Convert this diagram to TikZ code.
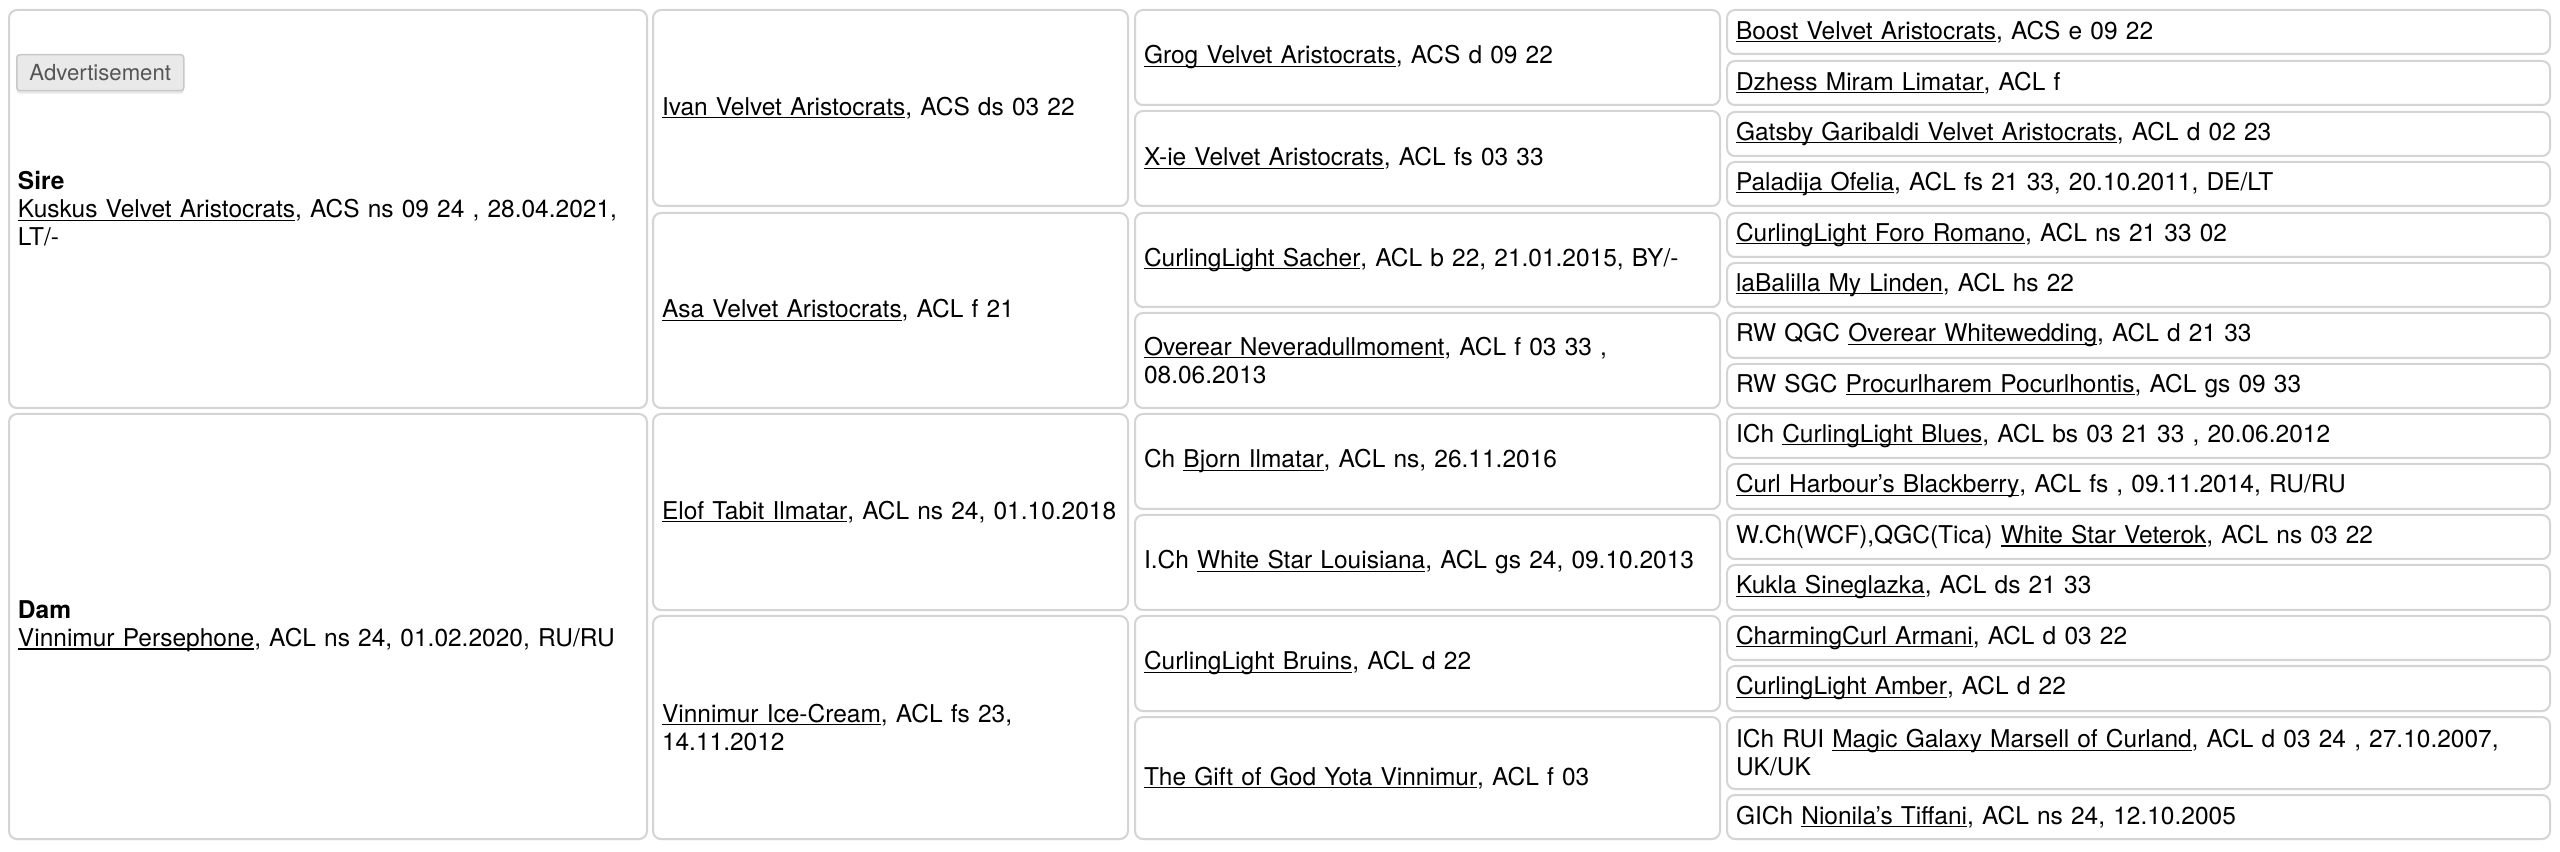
\documentclass[tikz,border=0pt]{standalone}
\usepackage{fontspec}
\setmainfont{TeX Gyre Heros}
\usetikzlibrary{shadows}
\definecolor{cellline}{RGB}{212,212,212}
\definecolor{btnfill}{RGB}{233,233,233}
\definecolor{btnline}{RGB}{200,200,200}
\definecolor{btntext}{RGB}{85,85,85}
\newsavebox{\lnkbox}
\newcommand{\lnk}[1]{\leavevmode\sbox{\lnkbox}{#1}\rlap{\rule[-0.85pt]{\wd\lnkbox}{0.35pt}}\usebox{\lnkbox}}
\tikzset{
cell/.style={draw=cellline,line width=0.02cm,rounded corners=0.08cm,fill=white,
  anchor=north west,align=left,inner xsep=0.09cm,inner ysep=0pt,
  font=\fontsize{6.97}{7.95}\selectfont,
  drop shadow={shadow xshift=0cm,shadow yshift=-0.012cm,opacity=0.12}},
colA/.style={cell,text width=6.20cm},
colB/.style={cell,text width=4.57cm},
colC/.style={cell,text width=5.67cm},
colD/.style={cell,text width=8.05cm},
adbtn/.style={draw=btnline,fill=btnfill,line width=0.015cm,rounded corners=0.03cm,
  anchor=north west,minimum width=1.67cm,minimum height=0.36cm,inner sep=0pt,
  text=btntext,font=\fontsize{6.3}{7}\selectfont,
  drop shadow={shadow xshift=0cm,shadow yshift=-0.03cm,opacity=0.18}}
}
\begin{document}
\begin{tikzpicture}
\useasboundingbox (0,0) rectangle (25.6,-8.52);
\node[colA,minimum height=3.98cm] (sire) at (0.08,-0.09)
 {\textbf{Sire}\\\lnk{Kuskus Velvet Aristocrats}, ACS ns 09 24 , 28.04.2021,\\LT/-};
\node[adbtn] (advert) at (0.16,-0.54) {Advertisement};
\node[colA,minimum height=4.25cm] (dam) at (0.08,-4.13)
 {\textbf{Dam}\\\lnk{Vinnimur Persephone}, ACL ns 24, 01.02.2020, RU/RU};

\node[colB,minimum height=1.96cm] (ivan) at (6.52,-0.09) {\lnk{Ivan Velvet Aristocrats}, ACS ds 03 22};
\node[colB,minimum height=1.95cm] (asa) at (6.52,-2.12) {\lnk{Asa Velvet Aristocrats}, ACL f 21};
\node[colB,minimum height=1.96cm] (elof) at (6.52,-4.13) {\lnk{Elof Tabit Ilmatar}, ACL ns 24, 01.10.2018};
\node[colB,minimum height=2.23cm] (icecream) at (6.52,-6.15) {\lnk{Vinnimur Ice-Cream}, ACL fs 23,\\14.11.2012};

\node[colC,minimum height=0.95cm] (grog) at (11.34,-0.09) {\lnk{Grog Velvet Aristocrats}, ACS d 09 22};
\node[colC,minimum height=0.95cm] (xie) at (11.34,-1.10) {\lnk{X-ie Velvet Aristocrats}, ACL fs 03 33};
\node[colC,minimum height=0.94cm] (sacher) at (11.34,-2.12) {\lnk{CurlingLight Sacher}, ACL b 22, 21.01.2015, BY/-};
\node[colC,minimum height=0.95cm] (neveradull) at (11.34,-3.12) {\lnk{Overear Neveradullmoment}, ACL f 03 33 ,\\08.06.2013};
\node[colC,minimum height=0.95cm] (bjorn) at (11.34,-4.13) {Ch \lnk{Bjorn Ilmatar}, ACL ns, 26.11.2016};
\node[colC,minimum height=0.95cm] (louisiana) at (11.34,-5.14) {I.Ch \lnk{White Star Louisiana}, ACL gs 24, 09.10.2013};
\node[colC,minimum height=0.95cm] (bruins) at (11.34,-6.15) {\lnk{CurlingLight Bruins}, ACL d 22};
\node[colC,minimum height=1.22cm] (yota) at (11.34,-7.16) {\lnk{The Gift of God Yota Vinnimur}, ACL f 03};

\node[colD,minimum height=0.44cm] (boost) at (17.26,-0.09) {\lnk{Boost Velvet Aristocrats}, ACS e 09 22};
\node[colD,minimum height=0.44cm] (dzhess) at (17.26,-0.60) {\lnk{Dzhess Miram Limatar}, ACL f};
\node[colD,minimum height=0.44cm] (gatsby) at (17.26,-1.11) {\lnk{Gatsby Garibaldi Velvet Aristocrats}, ACL d 02 23};
\node[colD,minimum height=0.44cm] (ofelia) at (17.26,-1.61) {\lnk{Paladija Ofelia}, ACL fs 21 33, 20.10.2011, DE/LT};
\node[colD,minimum height=0.44cm] (foro) at (17.26,-2.12) {\lnk{CurlingLight Foro Romano}, ACL ns 21 33 02};
\node[colD,minimum height=0.44cm] (linden) at (17.26,-2.62) {\lnk{laBalilla My Linden}, ACL hs 22};
\node[colD,minimum height=0.45cm] (whitewedding) at (17.26,-3.12) {RW QGC \lnk{Overear Whitewedding}, ACL d 21 33};
\node[colD,minimum height=0.44cm] (pocurlhontis) at (17.26,-3.63) {RW SGC \lnk{Procurlharem Pocurlhontis}, ACL gs 09 33};
\node[colD,minimum height=0.44cm] (blues) at (17.26,-4.13) {ICh \lnk{CurlingLight Blues}, ACL bs 03 21 33 , 20.06.2012};
\node[colD,minimum height=0.45cm] (blackberry) at (17.26,-4.63) {\lnk{Curl Harbour's Blackberry}, ACL fs , 09.11.2014, RU/RU};
\node[colD,minimum height=0.44cm] (veterok) at (17.26,-5.14) {W.Ch(WCF),QGC(Tica) \lnk{White Star Veterok}, ACL ns 03 22};
\node[colD,minimum height=0.45cm] (kukla) at (17.26,-5.64) {\lnk{Kukla Sineglazka}, ACL ds 21 33};
\node[colD,minimum height=0.44cm] (armani) at (17.26,-6.15) {\lnk{CharmingCurl Armani}, ACL d 03 22};
\node[colD,minimum height=0.45cm] (amber) at (17.26,-6.65) {\lnk{CurlingLight Amber}, ACL d 22};
\node[colD,minimum height=0.72cm] (marsell) at (17.26,-7.16) {ICh RUI \lnk{Magic Galaxy Marsell of Curland}, ACL d 03 24 , 27.10.2007,\\UK/UK};
\node[colD,minimum height=0.44cm] (tiffani) at (17.26,-7.94) {GICh \lnk{Nionila's Tiffani}, ACL ns 24, 12.10.2005};
\end{tikzpicture}
\end{document}
